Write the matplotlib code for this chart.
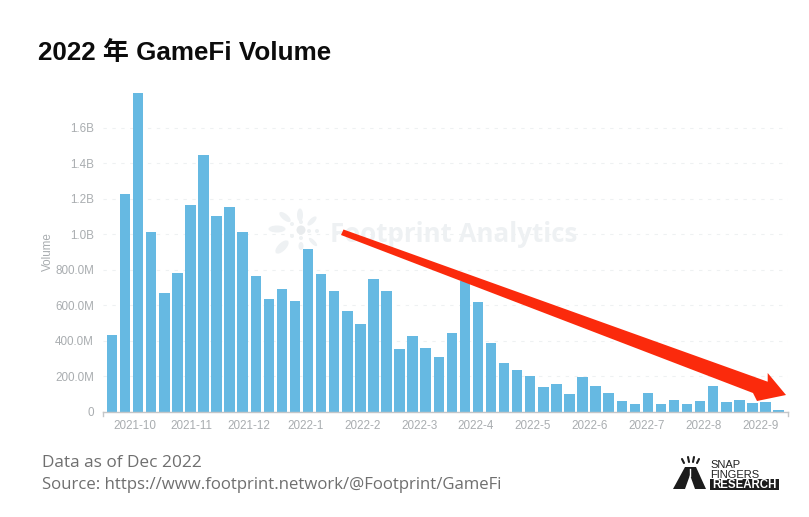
import matplotlib
matplotlib.use("Agg")
import matplotlib.pyplot as plt
from matplotlib.patches import Ellipse, Polygon, Circle, Rectangle

W, H = 809, 517

# weekly volume (in millions)
volume = [433, 1227, 1797, 1012, 672, 782, 1167, 1448, 1102, 1155, 1014, 767, 636,
          690, 624, 917, 776, 681, 570, 493, 748, 681, 353, 429, 358, 311, 446,
          735, 619, 386, 274, 234, 201, 141, 158, 103, 197, 148, 109, 60, 45,
          109, 43, 66, 45, 60, 146, 56, 66, 49, 58, 11]
month_labels = ["2021-10", "2021-11", "2021-12", "2022-1", "2022-2", "2022-3",
                "2022-4", "2022-5", "2022-6", "2022-7", "2022-8", "2022-9"]
# month tick positions, in weeks since the first bar
month_weeks = [1.76, 6.1, 10.45, 14.8, 19.15, 23.5, 27.85, 32.2, 36.55, 40.9, 45.25, 49.6]
y_ticks = [0, 200, 400, 600, 800, 1000, 1200, 1400, 1600]
y_labels = ["0", "200.0M", "400.0M", "600.0M", "800.0M", "1.0B", "1.2B", "1.4B", "1.6B"]

title = "2022 年 GameFi Volume"
note = "Data as of Dec 2022"
source = "Source: https://www.footprint.network/@Footprint/GameFi"

GREY = "#a9adb0"
MARK = "#eef1f3"
plt.rcParams["font.family"] = ["Liberation Sans", "DejaVu Sans"]

fig = plt.figure(figsize=(W / 100, H / 100), dpi=100)

# chart area, pixels: x 103..788, y 92..412
ax = fig.add_axes([103 / W, (H - 412) / H, 685 / W, 320 / H])
ax.bar(range(len(volume)), volume, width=0.8, color="#66b9e2", zorder=2)
ax.set_xlim(-0.69, 51.72)
ax.set_ylim(0, 1800)
ax.set_xticks(month_weeks)
ax.set_xticklabels(month_labels)
ax.set_yticks(y_ticks)
ax.set_yticklabels(y_labels)
ax.tick_params(axis="both", length=0, labelsize=8.4, labelcolor=GREY)
ax.tick_params(axis="x", pad=6)
ax.tick_params(axis="y", pad=6.5)
ax.grid(axis="y", color="#eef1f2", linewidth=0.8, linestyle=(0, (3, 5)), zorder=0)
for s in ["top", "right", "left"]:
    ax.spines[s].set_visible(False)
ax.spines["bottom"].set_color("#c4c6c8")
ax.spines["bottom"].set_linewidth(1)
ax.set_ylabel("Volume", fontsize=8.4, color=GREY)
ax.yaxis.set_label_coords((54 - 103) / 685, (412 - 252) / 320)

# overlay in pixel coordinates for the annotations
ov = fig.add_axes([0, 0, 1, 1], facecolor="none")
ov.set_xlim(0, W)
ov.set_ylim(H, 0)
ov.axis("off")

# axis end ticks
ov.plot([103, 103], [412, 416], color="#c4c6c8", lw=1)
ov.plot([788, 788], [412, 416], color="#c4c6c8", lw=1)

ov.text(38, 60, title, fontsize=18.75, fontweight="bold", color="#0c0c0c", va="baseline",
        family=["Liberation Sans", "Noto Sans CJK SC"])
ov.text(42, 467, note, fontsize=12.4, color="#6f6f6f", va="baseline", family=["Open Sans"])
ov.text(42, 489, source, fontsize=12.05, color="#6f6f6f", va="baseline", family=["Open Sans"])

# watermark
ov.text(330, 242, "Footprint Analytics", fontsize=18.6, fontweight="bold", color=MARK,
        va="baseline", family=["Open Sans"])
petals = [(282, 247, 17, 8, -45), (277, 229, 17, 7, 0), (285, 217, 14, 6, 40),
          (300, 215, 13, 6, 90), (312, 221, 12, 5, -45), (313, 242, 11, 4, 45),
          (301, 246, 8, 5, 90)]
for px, py, pw, ph, ang in petals:
    ov.add_patch(Ellipse((px, py), pw, ph, angle=ang, color=MARK, lw=0))
dots = [(317, 231, 2), (292, 224, 2), (292, 236, 2), (309, 231, 2), (301, 222, 2), (301, 238, 2)]
for px, py, r in dots:
    ov.add_patch(Circle((px, py), r, color=MARK, lw=0))
ov.add_patch(Circle((301, 230), 4.5, color="#e8ebed", lw=0))

# red trend arrow
arrow = [(343.5, 229.5), (767.7, 381.7), (767.7, 373), (786, 395), (757, 401), (753, 393), (341, 235)]
ov.add_patch(Polygon(arrow, closed=True, color="#fb2a0c", lw=0, zorder=5))

# snap fingers logo
ov.add_patch(Polygon([(673, 489), (685, 467), (696, 467), (706, 489), (695, 489), (690, 475),
                      (685, 489)], closed=True, color="#1c1c1c", lw=0))
ov.plot([690.5, 690.5], [469, 476], color="white", lw=1)
for x0, y0, x1, y1 in [(684, 463, 682, 459), (689, 462, 688, 457), (693, 462, 694, 457),
                       (697, 463, 699, 459)]:
    ov.plot([x0, x1], [y0, y1], color="#1c1c1c", lw=1.5, solid_capstyle="round")
ov.text(710, 467.5, "SNAP", fontsize=8, color="#222222", va="baseline", family=["Liberation Sans"])
ov.text(710, 477.5, "FINGERS", fontsize=8, color="#222222", va="baseline", family=["Liberation Sans"])
ov.add_patch(Rectangle((710, 479), 69, 10.5, color="#1c1c1c", lw=0))
ov.text(712, 488.5, "RESEARCH", fontsize=8.3, fontweight="bold", color="white", va="baseline",
        family=["Liberation Sans"])

fig.savefig("out.png", dpi=100)
